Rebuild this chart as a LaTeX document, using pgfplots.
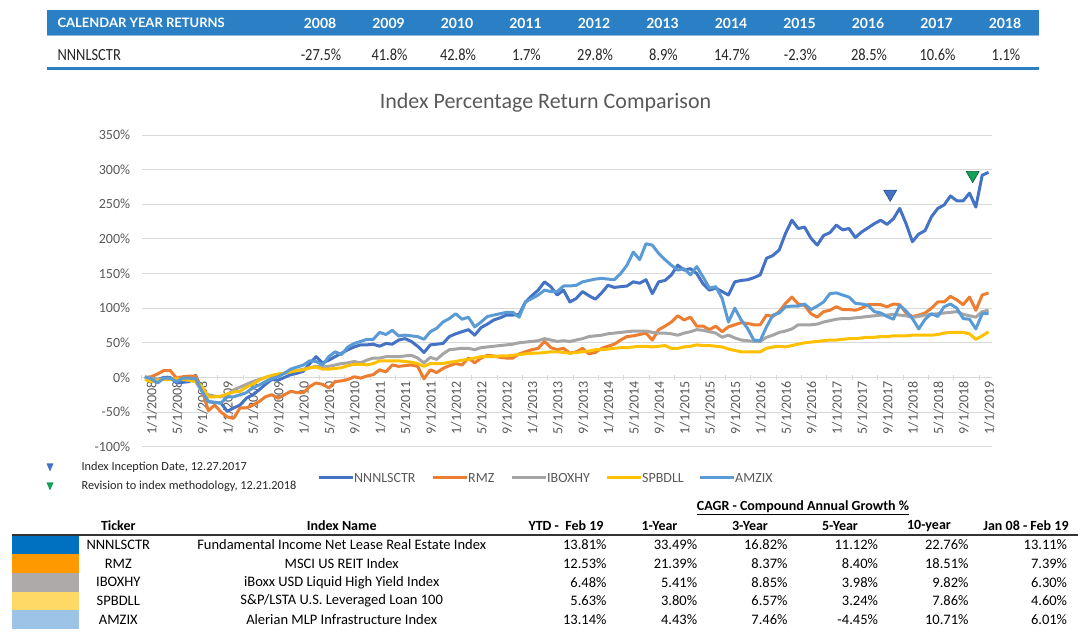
\documentclass[border=0pt]{standalone}
\usepackage{fontspec}
\setmainfont{Carlito}
\newfontfamily\lato{Lato}
\newfontfamily\narrow[FakeStretch=0.85]{Carlito}
\usepackage{pgfplots}
\usepackage{pgfplotstable}
\pgfplotsset{compat=1.18}

\definecolor{nnn}{HTML}{4472C4}
\definecolor{rmz}{HTML}{ED7D31}
\definecolor{ibx}{HTML}{A5A5A5}
\definecolor{spb}{HTML}{FFC000}
\definecolor{amz}{HTML}{5B9BD5}
\definecolor{gridgray}{HTML}{D9D9D9}
\definecolor{labgray}{HTML}{595959}
\definecolor{band}{HTML}{2B80C5}
\definecolor{mkgreen}{HTML}{12A05A}
\definecolor{swa}{HTML}{0070C0}
\definecolor{swb}{HTML}{FF9900}
\definecolor{swc}{HTML}{AEAAAA}
\definecolor{swd}{HTML}{FFD966}
\definecolor{swe}{HTML}{9DC3E6}

% monthly index returns in %, m = months since Jan 2008
\pgfplotstableread{
m nnn rmz ibx spb amz
0 0 0 0 -3 1
1 -1 1 -1 -6 -2
2 -3 5 -3 -4 -8
3 0 10 -2 -3 -1
4 0 10 -2 -3 -1
5 -8 -1 -3 -2 -6
6 -7 1 -3 -3 -1
7 -6 2 -4 -4 -1
8 3 2 -6 -6 -2
9 -18 -18 -20 -13 -20
10 -35 -48 -25 -28 -35
11 -36 -40 -27 -28 -36
12 -37 -50 -28 -27 -37
13 -49 -57 -25 -24 -28
14 -44 -59 -18 -21 -28
15 -40 -44 -14 -20 -25
16 -30 -44 -10 -14 -22
17 -25 -40 -6 -10 -15
18 -18 -35 -3 -4 -11
19 -10 -28 0 0 -6
20 -3 -25 2 3 -2
21 -4 -30 4 5 1
22 0 -25 6 6 6
23 4 -20 8 8 12
24 6 -22 10 10 15
25 9 -22 12 11 18
26 20 -13 14 14 24
27 30 -8 16 15 23
28 21 -10 15 12 18
29 25 -15 16 12 30
30 30 -6 18 13 37
31 35 -5 20 14 33
32 40 -3 21 17 44
33 44 1 23 19 49
34 47 -1 21 19 52
35 47 2 25 18 55
36 48 4 28 20 55
37 45 11 28 24 65
38 49 8 30 24 62
39 48 18 30 24 68
40 54 16 30 24 60
41 56 17 31 23 61
42 52 18 32 22 60
43 45 16 28 20 59
44 36 -2 21 16 55
45 47 11 29 20 66
46 48 7 26 20 71
47 49 13 34 20 80
48 59 17 40 22 85
49 63 20 41 23 92
50 66 18 42 25 84
51 69 28 42 26 87
52 61 21 40 28 73
53 72 28 43 30 80
54 77 32 44 30 88
55 83 31 45 30 90
56 86 29 46 31 92
57 90 28 47 31 94
58 90 28 48 32 94
59 91 34 50 33 87
60 109 37 51 34 109
61 118 40 52 35 114
62 126 42 53 35 119
63 138 52 56 36 126
64 131 43 54 37 124
65 119 40 52 37 124
66 126 42 53 36 132
67 109 35 52 35 132
68 114 37 54 36 133
69 124 42 56 37 138
70 118 34 59 38 140
71 113 36 60 40 142
72 122 42 61 40 143
73 133 45 63 41 142
74 130 48 64 42 141
75 131 54 65 43 150
76 132 59 66 43 162
77 138 60 67 44 181
78 136 62 67 45 170
79 141 64 67 45 193
80 121 54 65 44 191
81 138 69 64 45 179
82 140 74 64 46 170
83 148 80 63 42 162
84 162 89 61 42 155
85 155 83 64 44 157
86 157 87 66 45 148
87 150 74 69 47 160
88 135 74 68 46 145
89 126 69 66 46 129
90 129 74 64 45 131
91 124 66 58 44 114
92 119 73 61 41 80
93 138 76 57 39 100
94 140 79 54 37 83
95 141 78 53 37 71
96 144 76 52 37 54
97 148 76 52 37 53
98 172 90 58 42 73
99 176 88 61 44 90
100 184 95 65 45 93
101 208 107 67 44 102
102 227 116 70 46 103
103 215 106 76 48 103
104 217 104 76 50 106
105 201 92 76 51 98
106 191 87 77 52 103
107 205 95 80 53 109
108 209 97 82 54 121
109 220 102 84 54 122
110 213 98 85 55 119
111 215 98 85 56 116
112 202 97 86 56 107
113 210 100 87 57 106
114 216 105 88 58 104
115 222 105 89 58 95
116 227 105 90 59 93
117 221 102 90 59 88
118 229 106 91 60 84
119 244 105 90 60 104
120 222 93 89 60 96
121 196 88 87 61 85
122 207 90 88 61 70
123 212 93 90 61 84
124 232 100 91 61 92
125 244 109 92 62 88
126 249 109 93 64 102
127 262 117 94 65 106
128 255 112 95 65 100
129 255 105 91 65 85
130 266 116 89 63 84
131 246 97 87 55 70
132 292 119 95 60 92
133 296 122 97 66 92
}\returns

\newcommand{\tfont}{\fontsize{14.5}{16}\selectfont}
\newcommand{\trow}[9]{%
  \node[text=black] at (118.3,#1) {\tfont #2};
  \node[text=black] at (341.7,#1) {\tfont #3};
  \node[text=black,anchor=east] at (610,#1) {\tfont #4\%};
  \node[text=black,anchor=east] at (700.7,#1) {\tfont #5\%};
  \node[text=black,anchor=east] at (791,#1) {\tfont #6\%};
  \node[text=black,anchor=east] at (881.5,#1) {\tfont #7\%};
  \node[text=black,anchor=east] at (972,#1) {\tfont #8\%};
  \node[text=black,anchor=east] at (1070.6,#1) {\tfont #9\%};
}

\begin{document}
\begin{tikzpicture}[x=1pt,y=1pt]
\useasboundingbox (0,0) rectangle (1090,637);

\begin{axis}[
  at={(141.7pt,190.3pt)}, anchor=south west,
  scale only axis, width=850pt, height=311.7pt,
  xmin=-0.5, xmax=133.5, ymin=-100, ymax=350,
  axis x line=middle, axis y line=left,
  hide obscured x ticks=false,
  x axis line style={-, draw=gridgray, line width=0.8pt},
  y axis line style={draw=none},
  ytick={-100,-50,...,350},
  yticklabels={-100\%,-50\%,0\%,50\%,100\%,150\%,200\%,250\%,300\%,350\%},
  ymajorgrids, grid style={gridgray, line width=0.8pt},
  xtick={0,4,...,132},
  xticklabels={1/1/2008,5/1/2008,9/1/2008,1/1/2009,5/1/2009,9/1/2009,1/1/2010,5/1/2010,9/1/2010,1/1/2011,5/1/2011,9/1/2011,1/1/2012,5/1/2012,9/1/2012,1/1/2013,5/1/2013,9/1/2013,1/1/2014,5/1/2014,9/1/2014,1/1/2015,5/1/2015,9/1/2015,1/1/2016,5/1/2016,9/1/2016,1/1/2017,5/1/2017,9/1/2017,1/1/2018,5/1/2018,9/1/2018,1/1/2019},
  minor xtick={-0.5,3.5,...,131.5},
  major tick length=0pt, minor tick length=5pt,
  tick style={draw=gridgray, line width=0.8pt},
  tick label style={font=\fontsize{14}{15}\selectfont, text=labgray},
  xticklabel style={rotate=90, anchor=east, yshift=-7pt},
  yticklabel style={anchor=east, xshift=-8pt},
  clip=false,
  every axis plot/.append style={line width=3pt, line join=round},
]
\addplot[nnn, no markers] table[x=m, y=nnn] {\returns};
\addplot[rmz, no markers] table[x=m, y=rmz] {\returns};
\addplot[ibx, no markers] table[x=m, y=ibx] {\returns};
\addplot[spb, no markers] table[x=m, y=spb] {\returns};
\addplot[amz, no markers] table[x=m, y=amz] {\returns};
% event markers
\addplot[only marks, mark=triangle*, mark size=7.5pt, line width=0.6pt,
  mark options={rotate=180, fill=nnn, draw=nnn!65!black}] coordinates {(117.5,265)};
\addplot[only marks, mark=triangle*, mark size=7.5pt, line width=0.6pt,
  mark options={rotate=180, fill=mkgreen, draw=mkgreen!60!black}] coordinates {(130.5,292)};
\end{axis}

\begin{scope}[shift={(0pt,637pt)}, y=-1pt]
% calendar year returns
\fill[band] (47,10) rectangle (1039,35);
\draw[band!55!white, line width=0.8pt] (47,35) -- (1039,35);
\node[anchor=west, text=white, font=\lato\bfseries\fontsize{13}{15}\selectfont] at (54,23) {CALENDAR YEAR RETURNS};
\foreach \yr [count=\i from 0] in {2008,...,2018}
  \node[text=white, font=\lato\bfseries\fontsize{14}{16}\selectfont] at (320+68.5*\i,23) {\yr};
\node[anchor=west, text=black!85, font=\narrow\fontsize{17}{19}\selectfont] at (54,55) {NNNLSCTR};
\foreach \v [count=\i from 0] in {-27.5,41.8,42.8,1.7,29.8,8.9,14.7,-2.3,28.5,10.6,1.1}
  \node[text=black!85, font=\narrow\fontsize{17}{19}\selectfont] at (321+68.5*\i,55) {\v\%};
\draw[band, line width=2.5pt] (47,68.3) -- (1039,68.3);

% title
\node[text=labgray, font=\fontsize{22}{26}\selectfont] at (545.5,103) {Index Percentage Return Comparison};

% notes
\fill[nnn] (46.5,463.5) -- (53.5,463.5) -- (50,471.5) -- cycle;
\fill[mkgreen] (46.5,482.5) -- (53.5,482.5) -- (50,490.5) -- cycle;
\node[anchor=west, text=black!85, font=\fontsize{12.3}{14}\selectfont] at (78,467.5) {Index Inception Date, 12.27.2017};
\node[anchor=west, text=black!85, font=\fontsize{12.3}{14}\selectfont] at (78,486.5) {Revision to index methodology, 12.21.2018};

% legend
\foreach \c/\a/\t in {nnn/319/NNNLSCTR, rmz/433/RMZ, ibx/512/IBOXHY, spb/607/SPBDLL, amz/700/AMZIX} {
  \draw[\c, line width=3pt] (\a,477.7) -- (\a+34,477.7);
  \node[anchor=west, inner sep=1pt, text=labgray, font=\fontsize{14}{16}\selectfont] at (\a+34,477.7) {\t};
}

% CAGR table
\node[text=black, font=\bfseries\fontsize{14}{16}\selectfont] at (803,507.7) {\underline{CAGR - Compound Annual Growth \%}};
\foreach \h/\x in {Ticker/118.3, Index Name/341.7, {YTD -\ \ Feb 19}/566, 1-Year/659.5, 3-Year/750, 5-Year/840, 10-year/929, Jan 08 - Feb 19/1026}
  \node[text=black, font=\bfseries\fontsize{14}{16}\selectfont] at (\x,525.7) {\h};
\draw[black!80, line width=2pt] (11.7,535) -- (1077.5,535);
\fill[swa] (11.7,536) rectangle (79.3,554.5);
\fill[swb] (11.7,554.5) rectangle (79.3,573);
\fill[swc] (11.7,573) rectangle (79.3,591.7);
\fill[swd] (11.7,591.7) rectangle (79.3,610.5);
\fill[swe] (11.7,610.5) rectangle (79.3,629);
\trow{544.8}{NNNLSCTR}{Fundamental Income Net Lease Real Estate Index}{13.81}{33.49}{16.82}{11.12}{22.76}{13.11}
\trow{563.5}{RMZ}{MSCI US REIT Index}{12.53}{21.39}{8.37}{8.40}{18.51}{7.39}
\trow{582.3}{IBOXHY}{iBoxx USD Liquid High Yield Index}{6.48}{5.41}{8.85}{3.98}{9.82}{6.30}
\trow{601}{SPBDLL}{S\&P/LSTA U.S. Leveraged Loan 100}{5.63}{3.80}{6.57}{3.24}{7.86}{4.60}
\trow{619.8}{AMZIX}{Alerian MLP Infrastructure Index}{13.14}{4.43}{7.46}{-4.45}{10.71}{6.01}
\end{scope}
\end{tikzpicture}
\end{document}
